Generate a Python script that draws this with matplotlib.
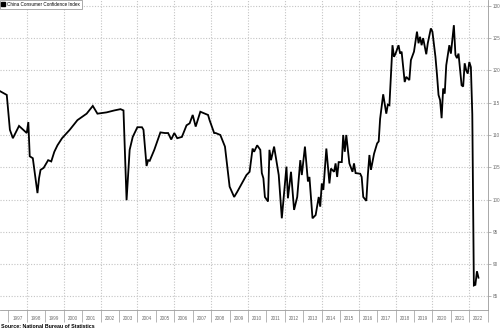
import numpy as np
import matplotlib
matplotlib.use("Agg")
import matplotlib.pyplot as plt
import matplotlib.dates as mdates
from matplotlib.lines import Line2D

# China Consumer Confidence Index (turning points)
MONTHS = [
    "1996-06", "1996-09", "1996-12", "1997-02", "1997-04", "1997-08", "1998-01", "1998-02",
    "1998-03", "1998-05", "1998-08", "1998-09", "1998-10", "1998-12", "1999-03", "1999-05",
    "1999-07", "1999-09", "1999-12", "2000-05", "2000-10", "2001-04", "2001-08", "2001-11",
    "2002-05", "2002-10", "2003-02", "2003-04", "2003-06", "2003-08", "2003-10", "2004-01",
    "2004-04", "2004-05", "2004-07", "2004-08", "2004-09", "2004-12", "2005-04", "2005-07",
    "2005-09", "2005-11", "2006-01", "2006-03", "2006-06", "2006-09", "2006-11", "2007-01",
    "2007-03", "2007-06", "2007-09", "2007-11", "2007-12", "2008-03", "2008-04", "2008-07",
    "2008-10", "2009-01", "2009-04", "2009-06", "2009-09", "2009-12", "2010-02", "2010-04",
    "2010-05", "2010-07", "2010-09", "2010-10", "2010-11", "2010-12", "2011-02", "2011-03",
    "2011-04", "2011-06", "2011-08", "2011-09", "2011-11", "2012-02", "2012-03", "2012-05",
    "2012-07", "2012-09", "2012-11", "2012-12", "2013-02", "2013-04", "2013-05", "2013-07",
    "2013-09", "2013-11", "2013-12", "2014-01", "2014-02", "2014-04", "2014-06", "2014-07",
    "2014-09", "2014-10", "2014-11", "2014-12", "2015-02", "2015-03", "2015-04", "2015-05",
    "2015-07", "2015-09", "2015-10", "2015-11", "2016-02", "2016-03", "2016-04", "2016-06",
    "2016-07", "2016-08", "2016-09", "2016-11", "2017-01", "2017-02", "2017-03", "2017-05",
    "2017-07", "2017-08", "2017-09", "2017-11", "2017-12", "2018-01", "2018-03", "2018-04",
    "2018-05", "2018-07", "2018-08", "2018-10", "2018-11", "2019-01", "2019-03", "2019-04",
    "2019-05", "2019-06", "2019-07", "2019-09", "2019-10", "2019-12", "2020-01", "2020-03",
    "2020-04", "2020-05", "2020-06", "2020-07", "2020-08", "2020-09", "2020-10", "2020-12",
    "2021-01", "2021-03", "2021-04", "2021-05", "2021-06", "2021-08", "2021-09", "2021-10",
    "2021-11", "2021-12", "2022-01", "2022-02", "2022-03", "2022-04", "2022-05", "2022-06",
    "2022-07",
]
CCI = [
    117.0, 116.6, 116.2, 110.8, 109.5, 111.4, 110.3, 112.0,
    106.7, 106.4, 101.0, 103.3, 104.6, 104.9, 106.1, 105.9,
    107.4, 108.4, 109.5, 110.8, 112.3, 113.3, 114.5, 113.3,
    113.5, 113.8, 114.0, 113.8, 99.9, 107.7, 109.7, 111.2,
    111.2, 110.8, 105.2, 106.1, 106.0, 107.7, 110.4, 110.3,
    110.3, 109.3, 110.3, 109.5, 109.7, 111.5, 111.8, 113.1,
    111.3, 113.6, 113.3, 113.1, 112.3, 110.3, 110.3, 110.0,
    108.2, 102.0, 100.4, 101.2, 102.5, 103.8, 104.3, 107.9,
    107.4, 108.4, 107.7, 104.1, 103.3, 100.4, 99.7, 107.7,
    106.1, 108.2, 105.3, 103.8, 97.1, 105.1, 100.2, 104.3,
    98.4, 100.4, 106.1, 103.8, 108.2, 102.8, 103.5, 97.1,
    97.6, 100.4, 98.9, 102.5, 101.5, 107.9, 102.5, 104.8,
    104.3, 105.6, 103.5, 105.8, 105.8, 110.0, 107.4, 110.0,
    105.6, 104.3, 105.6, 104.1, 104.0, 103.5, 100.4, 99.8,
    103.8, 106.9, 104.6, 107.1, 108.7, 109.0, 112.5, 116.3,
    113.3, 114.7, 114.6, 123.9, 122.1, 122.6, 123.9, 122.6,
    122.9, 118.2, 119.0, 118.5, 121.6, 122.9, 126.0, 124.2,
    125.2, 123.9, 125.0, 122.5, 124.2, 126.5, 126.0, 122.1,
    119.3, 116.2, 115.4, 112.6, 117.2, 116.4, 120.8, 123.9,
    122.6, 127.0, 122.4, 121.9, 122.6, 117.7, 117.5, 121.1,
    120.0, 119.5, 121.3, 120.5, 113.2, 86.7, 86.8, 88.9,
    87.9,
]
Y_TICKS = [85, 90, 95, 100, 105, 110, 115, 120, 125, 130]
YEARS = list(range(1997, 2023))

SERIES_LABEL = "China Consumer Confidence Index"
SOURCE = "Source: National Bureau of Statistics"

GRID_COLOR = "#c4c4c4"
AXIS_COLOR = "#9a9a9a"
TEXT_COLOR = "#6e6e6e"

plt.rcParams["font.family"] = ["Liberation Sans", "DejaVu Sans"]

dates = np.array([np.datetime64(m + "-01") for m in MONTHS])

fig = plt.figure(figsize=(5.0, 3.31), dpi=100)
ax = fig.add_axes([0.0, 1 - 310 / 331, 488 / 500, 310 / 331])

ax.plot(dates, CCI, color="black", lw=1.3, solid_joinstyle="miter")

ax.set_xlim(np.datetime64("1996-07-20"), np.datetime64("2023-01-06"))
ax.set_ylim(82.9, 130.9)

# year labels centred mid-year, separators at year boundaries
ax.xaxis.set_major_locator(mdates.MonthLocator(bymonth=7, bymonthday=1))
ax.xaxis.set_major_formatter(mdates.DateFormatter("%Y"))
ax.xaxis.set_minor_locator(mdates.YearLocator(1))
ax.tick_params(axis="x", which="major", length=0, pad=4.5, labelsize=3.3, labelcolor=TEXT_COLOR)
ax.tick_params(axis="x", which="minor", length=8.5, width=0.5, color=AXIS_COLOR, direction="out")

# dotted vertical grid every second year
for yr in YEARS:
    if yr % 2 == 0:
        ax.axvline(np.datetime64(f"{yr}-01-01"), color=GRID_COLOR, lw=0.8,
                   linestyle=(0, (1, 1.5)), zorder=0)

ax.yaxis.tick_right()
ax.set_yticks(Y_TICKS)
ax.tick_params(axis="y", length=2, width=0.5, color=AXIS_COLOR, pad=1.5,
               labelsize=3.3, labelcolor=TEXT_COLOR)
ax.grid(True, axis="y", color=GRID_COLOR, lw=0.8, linestyle=(0, (1, 1.5)), zorder=0)

for side in ("top", "left"):
    ax.spines[side].set_visible(False)
for side in ("bottom", "right"):
    ax.spines[side].set_color(AXIS_COLOR)
    ax.spines[side].set_linewidth(0.6)

handle = Line2D([], [], color="black", marker="s", linestyle="none", markersize=2.8)
leg = ax.legend([handle], [SERIES_LABEL], loc="upper left", bbox_to_anchor=(0.0, 1.0),
                borderaxespad=0.0, fontsize=3.3, fancybox=False, framealpha=1,
                handlelength=0.6, handletextpad=0.4, borderpad=0.45)
leg.get_frame().set_edgecolor("#888888")
leg.get_frame().set_linewidth(0.5)

fig.text(0.002, 1 - 327 / 331, SOURCE, fontsize=3.8, fontweight="bold",
         color="black", ha="left", va="center")

fig.savefig("out.png", dpi=100)
